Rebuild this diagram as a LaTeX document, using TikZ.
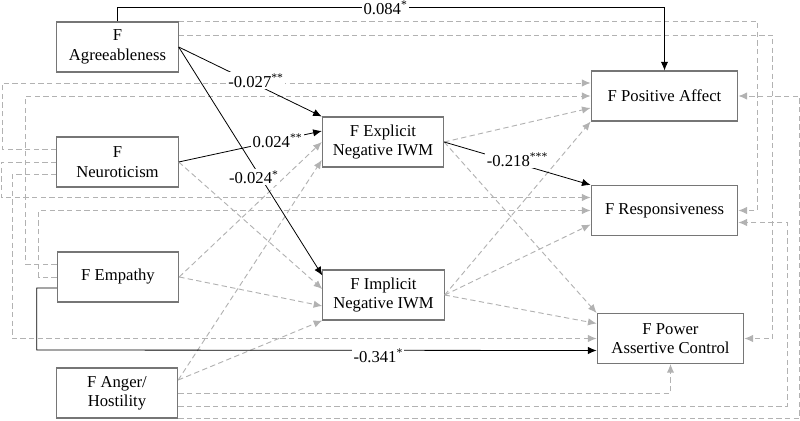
\documentclass[tikz,border=0pt]{standalone}
\usepackage{fontspec}
\setmainfont{Liberation Serif}
\usetikzlibrary{calc,arrows.meta}
\definecolor{caixa}{RGB}{118,118,118}
\definecolor{tracejado}{RGB}{178,178,178}

\begin{document}
\begin{tikzpicture}[x=0.75pt, y=-0.75pt,
  font=\fontsize{12.5}{14.5}\selectfont,
  fator/.style={draw=caixa, line width=0.8pt, rectangle, minimum width=91pt, minimum height=37.5pt, align=center, inner sep=1pt},
  desfecho/.style={fator, minimum width=110pt},
  efeito/.style={draw=black, line width=0.6pt, -{Latex[length=6.5pt,width=5.5pt]}},
  tracado/.style={draw=tracejado, dash pattern=on 4pt off 2.5pt, line width=0.7pt, -{Latex[length=6.5pt,width=5.5pt]}},
  rotulo/.style={fill=white, inner sep=1pt}]

\useasboundingbox (0,0) rectangle (800,421);

% Caixas da esquerda
\node (agree) [fator] at (117.5,47) {F\\Agreeableness};
\node (neuro) [fator] at (117.5,162) {F\\Neuroticism};
\node (empat) [fator] at (118,277) {F Empathy};
\node (anger) [fator] at (117,393) {F Anger/\\Hostility};

% Mediadores
\node (expl) [fator] at (383,142) {F Explicit\\Negative IWM};
\node (impl) [fator] at (383.5,295) {F Implicit\\Negative IWM};

% Desfechos
\node (posaf) [desfecho] at (664.5,96) {F Positive Affect};
\node (resp) [desfecho] at (664.5,210.5) {F Responsiveness};
\node (power) [desfecho] at (670.5,338.5) {F Power\\Assertive Control};

% Setas tracejadas (nao significativas)
\path[tracado] (agree.north east) -- ++(579,0) |- (resp.east);
\path[tracado] ($(agree.east)+(0,-12)$) -- ++(594,0) |- (power.east);
\path[tracado] ($(neuro.west)+(0,-13)$) -- ++(-54,0) |- ($(posaf.west)+(0,-13)$);
\path[tracado] (neuro.west) -- ++(-55,0) |- ($(resp.west)+(0,-13)$);
\path[tracado] ($(neuro.west)+(0,12)$) -- ++(-44,0) |- (power.west);
\path[tracado] (neuro.east) -- ($(impl.west)+(0,-6)$);
\path[tracado] ($(empat.west)+(0,-13)$) -- ++(-31,0) |- (posaf.west);
\path[tracado] (empat.west) -- ++(-18,0) |- (resp.west);
\path[tracado] (empat.east) -- (expl.west);
\path[tracado] (empat.east) -- ($(impl.west)+(0,11)$);
\path[tracado] ($(anger.east)+(0,-13)$) -- ($(expl.west)+(0,18)$);
\path[tracado] ($(anger.east)+(0,-13)$) -- (impl.south west);
\path[tracado] (anger.east) -| (power.south);
\path[tracado] ($(anger.east)+(0,13)$) -- ++(609,0) |- ($(resp.east)+(0,12)$);
\path[tracado] (anger.south east) -- ++(621,0) |- (posaf.east);
\path[tracado] (expl.east) -- ($(posaf.west)+(0,12)$);
\path[tracado] (expl.east) -- (power.north west);
\path[tracado] (impl.east) -- (posaf.south west);
\path[tracado] (impl.east) -- ($(resp.west)+(0,14)$);
\path[tracado] (impl.east) -- ($(power.west)+(0,-15)$);

% Setas com rotulo
\path[efeito] (agree.north) -- ++(0,-14) -| node[rotulo, pos=0.245] {0.084\textsuperscript{*}} (posaf.north);
\path[efeito] (agree.east) -- node[rotulo, pos=0.54, yshift=3pt] {-0.027\textsuperscript{**}} (expl.north west);
\path[efeito] (agree.east) -- node[rotulo, pos=0.57, xshift=-5pt] {-0.024\textsuperscript{*}} ($(impl.north west)+(0,6)$);
\path[efeito] (neuro.east) -- node[rotulo, pos=0.69] {0.024\textsuperscript{**}} ($(expl.west)+(0,-11)$);
\path[efeito] (expl.east) -- node[rotulo, pos=0.5, yshift=3pt] {-0.218\textsuperscript{***}} (resp.north west);
\path[efeito] ($(empat.west)+(0,11)$) -| ++(-20,62) -- node[rotulo, pos=0.61, yshift=-4pt] {-0.341\textsuperscript{*}} ($(power.west)+(0,12)$);

\end{tikzpicture}
\end{document}
